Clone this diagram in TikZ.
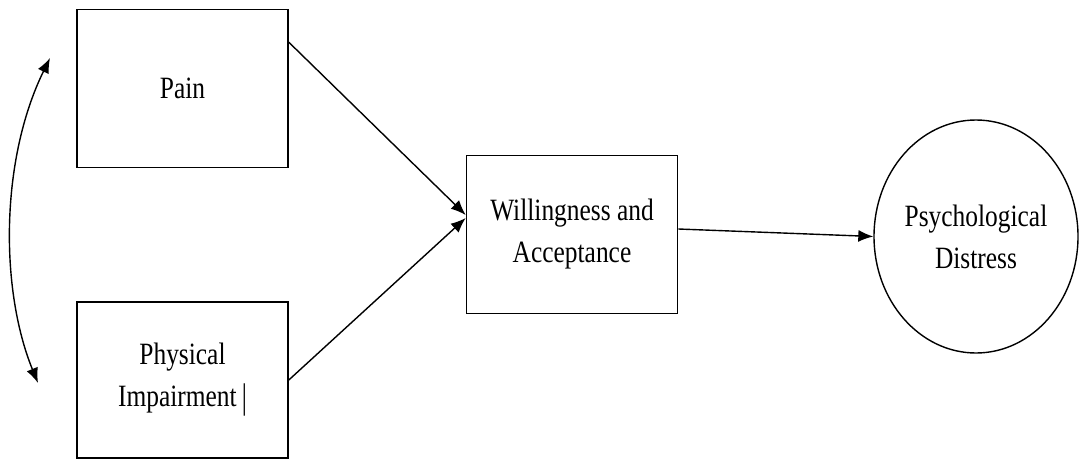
\documentclass[tikz,border=0pt]{standalone}
\usepackage{fontspec}
\setmainfont{Liberation Serif}[FakeStretch=0.82]
\usepackage{tikz}
\usetikzlibrary{calc}
\usetikzlibrary{shapes.geometric,arrows.meta}

\begin{document}
\begin{tikzpicture}[x=0.5pt,y=-0.5pt,
        font=\fontsize{15.5}{21}\selectfont,
        box/.style={draw, line width=0.8pt, inner sep=0pt, align=center,
            minimum width=105.5pt, minimum height=79pt},
        latent/.style={draw, ellipse, line width=0.7pt, inner sep=0pt, align=center,
            minimum width=102pt, minimum height=116.5pt},
        path/.style={line width=0.7pt, -{Latex[length=7.5pt,width=6pt]}}]
        \useasboundingbox (0,0) rectangle (1079,460);

        %KOTAK
        \node[box] (pain) at (182.5,88.5) {Pain};
        \node[box, minimum height=78pt] (phys) at (182.5,380) {Physical\\Impairment\,\raisebox{-1pt}{\scalebox{1}[1.15]{|}}};
        \node[box] (will) at (572,234.5) {Willingness and\\Acceptance};

        %LINGKARAN
        \node[latent] (dist) at (976,236.5) {Psychological\\Distress};

        %PANAH
        \draw[path] ($(pain.north east)!0.21!(pain.south east)$) -- ([yshift=9.75pt]will.west);
        \draw[path] (phys.east) -- ([yshift=8.25pt]will.west);
        \draw[path] ([yshift=2.75pt]will.east) -- (dist.west);

        %KORELASI
        \coordinate (ctop) at (50,58);
        \coordinate (cbot) at (38,383);
        \draw[line width=0.7pt, {Latex[length=7.5pt,width=6pt]}-{Latex[length=7.5pt,width=6pt]}]
            (ctop) .. controls (0,160) and (0,290) .. (cbot);
    \end{tikzpicture}
\end{document}
